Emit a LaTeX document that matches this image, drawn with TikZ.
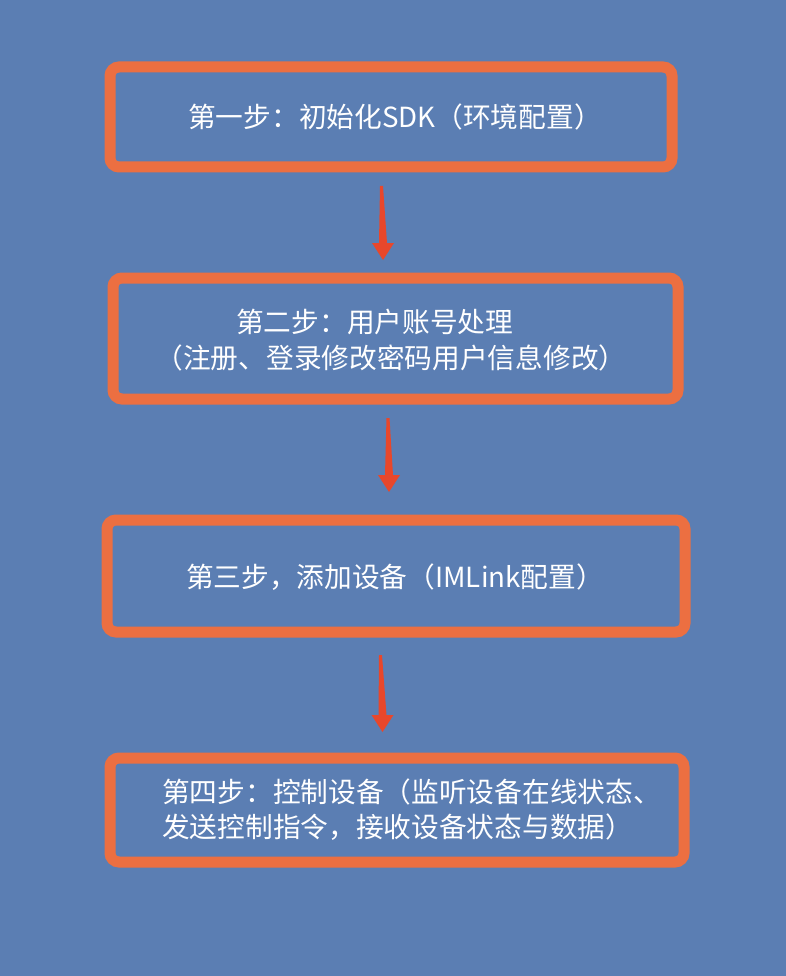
\documentclass[tikz,border=0pt]{standalone}
\usepackage{fontspec}
\setmainfont{Noto Sans CJK SC}
\usetikzlibrary{calc}
\definecolor{bg}{HTML}{5B7EB3}
\definecolor{bordc}{HTML}{EC6F41}
\definecolor{arrc}{HTML}{E8472B}
\tikzset{
  stepbox/.style={draw=bordc, line width=11pt, rounded corners=9pt, inner sep=0pt, fill=bg},
  txt/.style={text=white, inner sep=0pt, font=\fontsize{27.7}{34}\selectfont},
}
\newcommand{\taperarrow}[2]{%
  \fill[arrc] ($(#1)+(-1.5,0)$) -- ($(#1)+(1.5,0)$) -- ($(#2)+(4,-17)$) -- ($(#2)+(11,-17)$) -- (#2) -- ($(#2)+(-11,-17)$) -- ($(#2)+(-4,-17)$) -- cycle;}
\begin{document}
\begin{tikzpicture}[x=1pt,y=-1pt]
\fill[bg] (0,0) rectangle (786,976);
\useasboundingbox (0,0) rectangle (786,976);
\node[stepbox, minimum width=562pt, minimum height=100pt] (b1) at (391,117) {};
\node[stepbox, minimum width=565pt, minimum height=121pt] (b2) at (395.5,338.5) {};
\node[stepbox, minimum width=578pt, minimum height=112pt] (b3) at (396,576) {};
\node[stepbox, minimum width=574pt, minimum height=104pt] (b4) at (397,810) {};
\node[txt] (t1) at (395,117) {第一步：初始化SDK（环境配置）};
\node[txt, anchor=west] (t2a) at (236,322) {第二步：用户账号处理};
\node[txt] (t2b) at (391,358) {（注册、登录修改密码用户信息修改）};
\node[txt] (t3) at (395,577) {第三步，添加设备（IMLink配置）};
\node[txt, anchor=west] (t4a) at (162,792) {第四步：控制设备（监听设备在线状态、};
\node[txt, anchor=west] (t4b) at (162,827) {发送控制指令，接收设备状态与数据）};
\coordinate (a1s) at (381.5,186);
\coordinate (a1e) at (383,260);
\coordinate (a2s) at (388,418);
\coordinate (a2e) at (389,492);
\coordinate (a3s) at (380.5,655);
\coordinate (a3e) at (382.5,732);
\taperarrow{a1s}{a1e}
\taperarrow{a2s}{a2e}
\taperarrow{a3s}{a3e}
\end{tikzpicture}
\end{document}
